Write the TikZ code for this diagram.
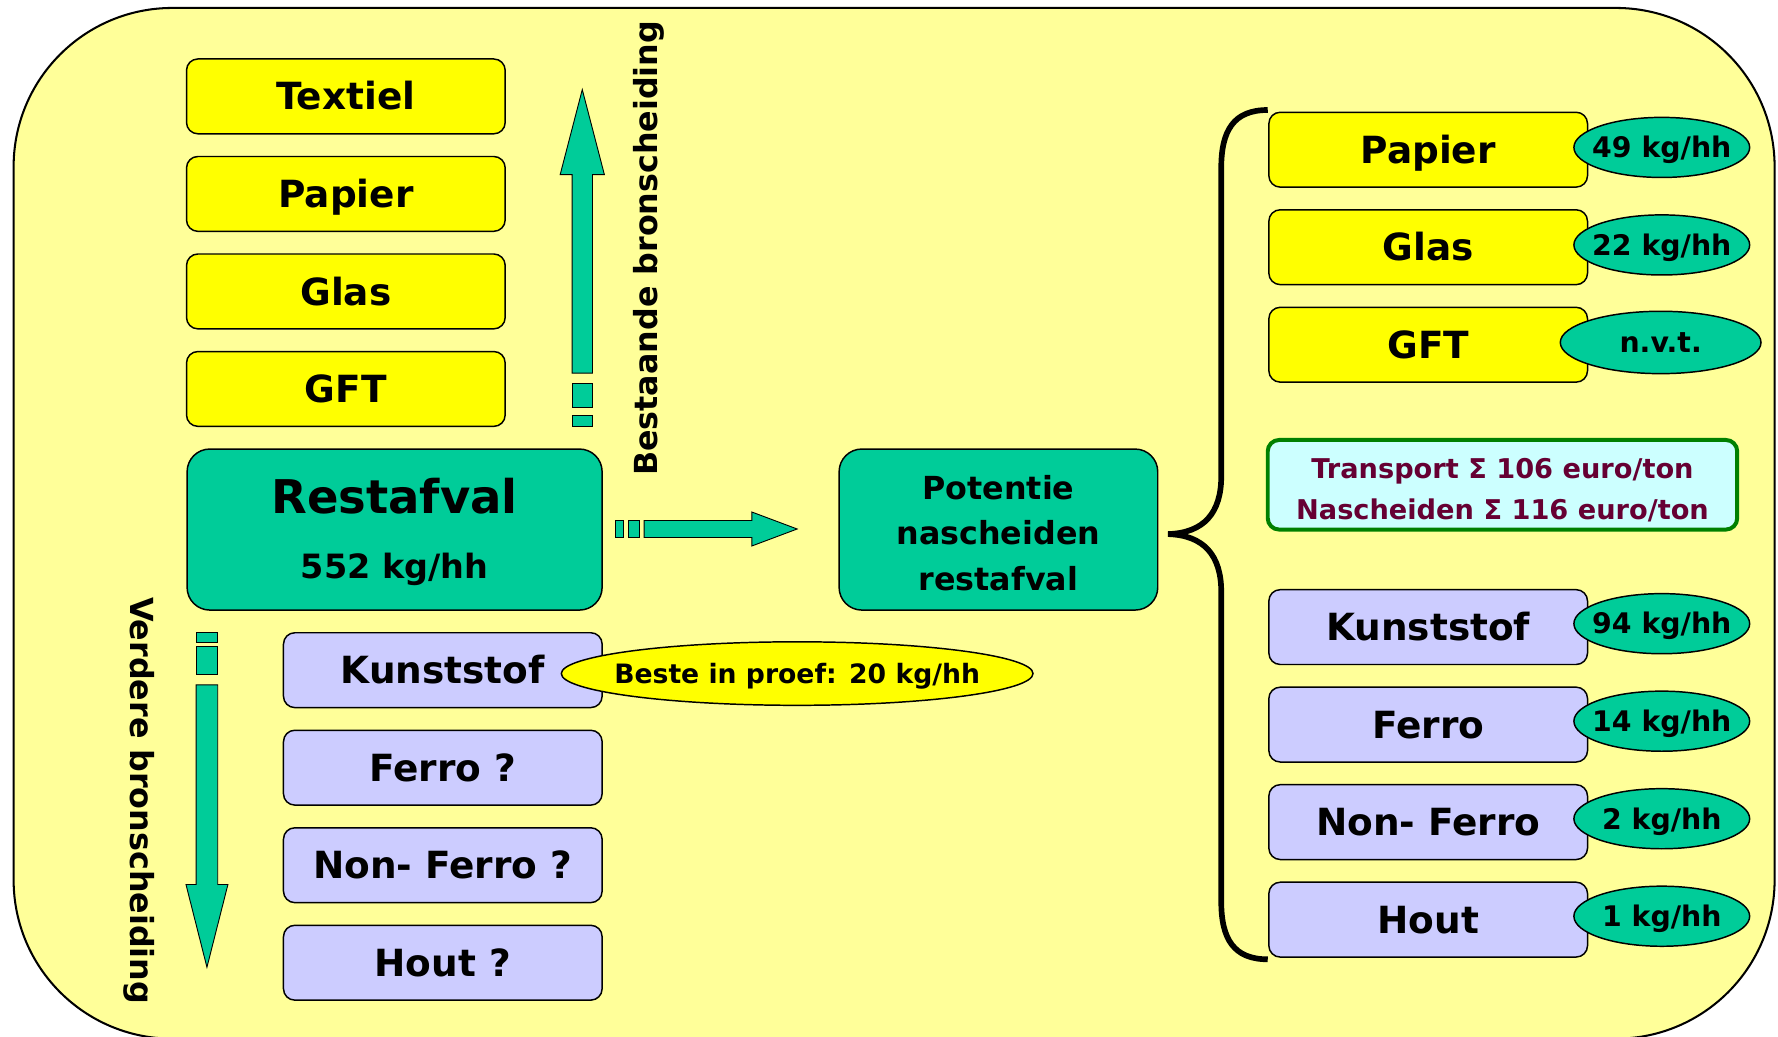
\documentclass[tikz,border=0pt]{standalone}
\usepackage{fontspec}
\setmainfont{DejaVu Sans}
\usetikzlibrary{shapes.geometric}
\definecolor{bgyel}{HTML}{FFFF99}
\definecolor{yel}{HTML}{FFFF00}
\definecolor{grn}{HTML}{00CC99}
\definecolor{lav}{HTML}{CCCCFF}
\definecolor{cyanbox}{HTML}{CCFFFF}
\definecolor{darkgrn}{HTML}{008000}
\definecolor{maroon}{HTML}{660033}
\newcommand\fntBox{\fontsize{33}{38}\selectfont\bfseries}
\newcommand\fntVal{\fontsize{25}{28}\selectfont\bfseries}
\newcommand\fntSide{\fontsize{28}{32}\selectfont\bfseries}
\newcommand\fntRest{\fontsize{41}{48}\selectfont\bfseries}
\newcommand\fntSub{\fontsize{29.5}{34}\selectfont\bfseries}
\newcommand\fntPot{\fontsize{28}{40}\selectfont\bfseries}
\newcommand\fntBeste{\fontsize{23.5}{28}\selectfont\bfseries}
\newcommand\fntCost{\fontsize{24}{36}\selectfont\bfseries}
\tikzset{
  frame/.style={draw=black, line width=1.8pt, fill=bgyel, rounded corners=140pt},
  box/.style={draw=black, line width=1.3pt, rounded corners=10pt, minimum width=281pt,
    minimum height=66pt, inner sep=0pt, font=\fntBox, text height=24pt, text depth=0pt},
  ybox/.style={box, fill=yel},
  lbox/.style={box, fill=lav},
  gbox/.style={draw=black, line width=1.3pt, rounded corners=20pt, fill=grn, inner sep=0pt},
  val/.style={ellipse, draw=black, line width=1.3pt, fill=grn, minimum width=155pt,
    minimum height=53pt, inner ysep=0pt, inner xsep=-8pt, font=\fntVal, text height=18.2pt, text depth=0pt},
  blockarrow/.style={draw=black, line width=0.8pt, fill=grn},
  bracestyle/.style={draw=black, line width=5pt},
  sidelabel/.style={font=\fntSide, inner sep=0pt}
}
\begin{document}
\begin{tikzpicture}[x=1pt,y=-1pt]
\useasboundingbox (0,0) rectangle (1568,914);
\fill[white] (0,0) rectangle (1568,914);
\begin{scope}
\clip (0,0) rectangle (1568,914);
\draw[frame] (12,7) rectangle (1565,916);
\end{scope}

% left yellow column
\node[ybox] (textiel) at (305,85) {Textiel};
\node[ybox] (papierL) at (305,171) {Papier};
\node[ybox] (glasL) at (305,257) {Glas};
\node[ybox] (gftL) at (305,343) {GFT};

% restafval
\node[gbox, minimum width=366pt, minimum height=142pt] (rest) at (348,467) {};
\node[font=\fntRest, text height=30pt, text depth=0pt, inner sep=0pt] (restT) at (348,438) {Restafval};
\node[font=\fntSub, text height=21.5pt, text depth=0pt, inner sep=0pt] (restS) at (348,499) {552 kg/hh};

% potentie
\node[gbox, minimum width=281pt, minimum height=142pt] (pot) at (880.5,467) {};
\node[font=\fntPot, align=center, inner sep=0pt] (potT) at (880.5,470) {Potentie\\nascheiden\\restafval};

% up arrow
\draw[blockarrow] (504.5,329) -- (504.5,154) -- (494,154) -- (513.5,79) -- (533,154) -- (522.5,154) -- (522.5,329) -- cycle;
\draw[blockarrow] (504.5,338) rectangle (522.5,359);
\draw[blockarrow] (504.5,366) rectangle (522.5,376);
\node[sidelabel, rotate=90] (best) at (572,219) {Bestaande bronscheiding};

% right arrow
\draw[blockarrow] (568,459) -- (663,459) -- (663,451.5) -- (703,466.5) -- (663,481.5) -- (663,474) -- (568,474) -- cycle;
\draw[blockarrow] (543,459) rectangle (550,474);
\draw[blockarrow] (554,459) rectangle (564,474);

% down arrow
\draw[blockarrow] (173,604) -- (192,604) -- (192,780) -- (201,780) -- (182.5,853) -- (164,780) -- (173,780) -- cycle;
\draw[blockarrow] (173,558) rectangle (192,567);
\draw[blockarrow] (173,570) rectangle (192,595);
\node[sidelabel, rotate=-90] (verd) at (123,706) {Verdere bronscheiding};

% left lavender column
\node[lbox] (kunstL) at (390.5,591) {Kunststof};
\node[lbox] (ferroL) at (390.5,677) {Ferro ?};
\node[lbox] (nonL) at (390.5,763) {Non- Ferro ?};
\node[lbox] (houtL) at (390.5,849) {Hout ?};
\node[ellipse, draw=black, line width=1.3pt, fill=yel, minimum width=416pt, minimum height=56pt,
  inner ysep=0pt, inner xsep=-16pt, font=\fntBeste, text height=17pt, text depth=0pt] (beste) at (703,594) {Beste in proef: 20 kg/hh};

% brace
\draw[bracestyle] (1118,97) .. controls (1088,97) and (1077,115) .. (1077,148)
  -- (1077,420) .. controls (1077,452) and (1062,470) .. (1030,471)
  .. controls (1062,472) and (1077,490) .. (1077,522)
  -- (1077,795) .. controls (1077,828) and (1088,846) .. (1118,846);

% right column
\node[ybox] (papierR) at (1259.5,132) {Papier};
\node[ybox] (glasR) at (1259.5,218) {Glas};
\node[ybox] (gftR) at (1259.5,304) {GFT};
\node[val] (v49) at (1465.5,130) {49 kg/hh};
\node[val] (v22) at (1465.5,216) {22 kg/hh};
\node[val, minimum width=177pt, minimum height=55pt] (vnvt) at (1464.5,302) {n.v.t.};

\node[draw=darkgrn, line width=3.5pt, fill=cyanbox, rounded corners=10pt, minimum width=414pt,
  minimum height=79pt, inner sep=0pt] (cost) at (1325,427.5) {};
\node[align=center, font=\fntCost, text=maroon, inner sep=0pt] (costT) at (1325,432)
  {Transport Σ 106 euro/ton\\Nascheiden Σ 116 euro/ton};

\node[lbox] (kunstR) at (1259.5,553) {Kunststof};
\node[lbox] (ferroR) at (1259.5,639) {Ferro};
\node[lbox] (nonR) at (1259.5,725) {Non- Ferro};
\node[lbox] (houtR) at (1259.5,811) {Hout};
\node[val] (v94) at (1465.5,550) {94 kg/hh};
\node[val] (v14) at (1465.5,636) {14 kg/hh};
\node[val] (v2) at (1465.5,722) {2 kg/hh};
\node[val] (v1) at (1465.5,808) {1 kg/hh};
\end{tikzpicture}
\end{document}
